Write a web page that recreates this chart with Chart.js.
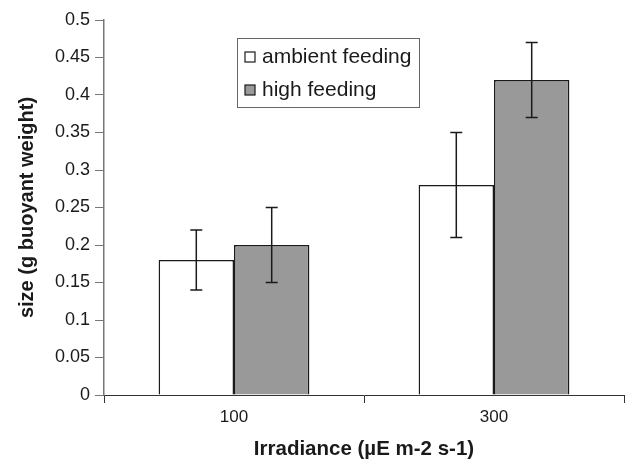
<!DOCTYPE html>
<html>
<head>
<meta charset="utf-8">
<script src="https://cdn.jsdelivr.net/npm/chart.js@4.4.0/dist/chart.umd.min.js"></script>
<style>
  html, body { margin: 0; padding: 0; background: #fff; }
  #wrap { width: 641px; height: 460px; }
</style>
</head>
<body>
<div id="wrap"><canvas id="barChart"></canvas></div>
<script>
// data
const categories = ['100', '300'];
const ambientFeeding = [0.18, 0.28];
const ambientErr = [0.04, 0.07];
const highFeeding = [0.20, 0.42];
const highErr = [0.05, 0.05];
const yTicks = [0, 0.05, 0.1, 0.15, 0.2, 0.25, 0.3, 0.35, 0.4, 0.45, 0.5];

const FONT = '"Liberation Sans", Arial, Helvetica, sans-serif';

// error bars drawn on top of the bars
const errorBars = {
    id: 'errorBars',
    afterDatasetsDraw(chart) {
        const ctx = chart.ctx;
        const y = chart.scales.y;
        ctx.save();
        ctx.strokeStyle = '#1a1a1a';
        ctx.lineWidth = 1.5;
        chart.data.datasets.forEach((ds, i) => {
            const meta = chart.getDatasetMeta(i);
            meta.data.forEach((bar, j) => {
                const v = ds.data[j], e = ds.errors[j];
                const yTop = y.getPixelForValue(v + e);
                const yBot = y.getPixelForValue(v - e);
                const cap = 6;
                ctx.beginPath();
                ctx.moveTo(bar.x, yTop); ctx.lineTo(bar.x, yBot);
                ctx.moveTo(bar.x - cap, yTop); ctx.lineTo(bar.x + cap, yTop);
                ctx.moveTo(bar.x - cap, yBot); ctx.lineTo(bar.x + cap, yBot);
                ctx.stroke();
            });
        });
        ctx.restore();
    }
};

// boxed legend inside the plot area
const boxLegend = {
    id: 'boxLegend',
    afterDraw(chart) {
        const ctx = chart.ctx;
        const x0 = 237, y0 = 38, w = 182, h = 69;
        ctx.save();
        ctx.fillStyle = '#fff';
        ctx.fillRect(x0, y0, w, h);
        ctx.strokeStyle = '#666';
        ctx.lineWidth = 1;
        ctx.strokeRect(x0 + 0.5, y0 + 0.5, w, h);
        ctx.font = '21px ' + FONT;
        ctx.textBaseline = 'middle';
        chart.data.datasets.forEach((ds, i) => {
            const cy = y0 + 19 + i * 33;
            ctx.fillStyle = ds.backgroundColor;
            ctx.fillRect(x0 + 8, cy - 5, 10, 10);
            ctx.strokeStyle = '#1a1a1a';
            ctx.lineWidth = 1.2;
            ctx.strokeRect(x0 + 8, cy - 5, 10, 10);
            ctx.fillStyle = '#1a1a1a';
            ctx.fillText(ds.label, x0 + 25, cy);
        });
        ctx.restore();
    }
};

const barChart = new Chart(document.getElementById('barChart'), {
    type: 'bar',
    data: {
        labels: categories,
        datasets: [{
            label: 'ambient feeding',
            data: ambientFeeding,
            errors: ambientErr,
            backgroundColor: '#ffffff',
            borderColor: '#1a1a1a',
            borderWidth: 1.5
        }, {
            label: 'high feeding',
            data: highFeeding,
            errors: highErr,
            backgroundColor: '#999999',
            borderColor: '#1a1a1a',
            borderWidth: 1.5
        }]
    },
    options: {
        responsive: true,
        maintainAspectRatio: false,
        animation: false,
        devicePixelRatio: 1,
        layout: { padding: { top: 20, right: 17, left: 0, bottom: 0 } },
        datasets: { bar: { barPercentage: 1, categoryPercentage: 0.58 } },
        plugins: {
            legend: { display: false },
            tooltip: { enabled: false }
        },
        scales: {
            x: {
                offset: true,
                grid: {
                    offset: true,
                    drawOnChartArea: false,
                    drawTicks: true,
                    tickLength: 8,
                    color: '#333'
                },
                border: { color: '#333', width: 1 },
                ticks: { color: '#1a1a1a', font: { family: FONT, size: 17 }, padding: 4 },
                title: {
                    display: true,
                    text: 'Irradiance (µE m-2 s-1)',
                    color: '#1a1a1a',
                    font: { family: FONT, size: 20.5, weight: 'bold', lineHeight: 1 },
                    padding: { top: 8, bottom: 0 }
                },
                afterFit(scale) { scale.height = 65; }
            },
            y: {
                min: 0,
                max: 0.5,
                afterBuildTicks(scale) { scale.ticks = yTicks.map(v => ({ value: v })); },
                grid: {
                    drawOnChartArea: false,
                    drawTicks: true,
                    tickLength: 9,
                    color: '#777'
                },
                border: { color: '#777', width: 1.5 },
                ticks: {
                    color: '#1a1a1a',
                    font: { family: FONT, size: 18 },
                    padding: 5,
                    callback: v => String(Math.round(v * 100) / 100)
                },
                title: {
                    display: true,
                    text: 'size (g buoyant weight)',
                    color: '#1a1a1a',
                    font: { family: FONT, size: 20, weight: 'bold', lineHeight: 1.2 },
                    padding: { top: 15, bottom: 0 }
                },
                afterFit(scale) { scale.width = 104; }
            }
        }
    },
    plugins: [errorBars, boxLegend]
});
</script>
</body>
</html>
